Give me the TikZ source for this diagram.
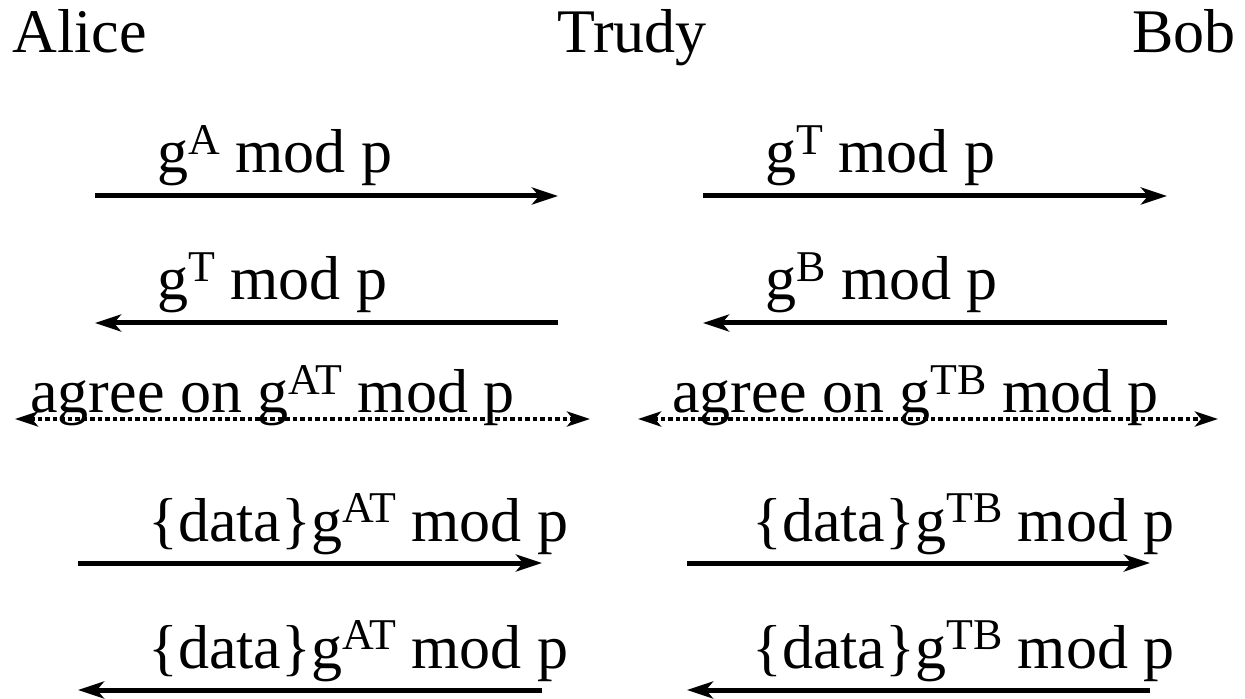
\documentclass[tikz,border=0pt]{standalone}
\usepackage{fontspec}
\setmainfont{Liberation Serif}
\usetikzlibrary{arrows.meta}

% small raised text for the exponents
\newcommand{\expo}[1]{\raisebox{0.3em}{\fontsize{25}{26}\selectfont #1}}

\begin{document}
\begin{tikzpicture}[x=0.02cm, y=-0.02cm,
    lbl/.style={anchor=base west, inner sep=0pt, font=\fontsize{35.3}{42}\selectfont},
    msg/.style={-{Stealth[length=0.52cm, width=0.34cm, inset=0.14cm]}, line width=0.1cm},
    agree/.style={{Stealth[length=0.46cm, width=0.3cm, inset=0.12cm]}-{Stealth[length=0.46cm, width=0.3cm, inset=0.12cm]},
                  line width=0.09cm, dash pattern=on 0.09cm off 0.06cm}
]
    \useasboundingbox (0,0) rectangle (1245,699);

    \node[lbl] (alice) at (12,53)  {Alice};
    \node[lbl] (trudy) at (557,53) {Trudy};
    \node[lbl, anchor=base east] (bob) at (1236,53) {Bob};

    % end points of the messages, left half (Alice - Trudy) and right half (Trudy - Bob)
    \coordinate (a1) at (95,196);   \coordinate (t1) at (558,196);
    \coordinate (u1) at (703,196);  \coordinate (b1) at (1167,196);
    \coordinate (a2) at (95,323);   \coordinate (t2) at (558,323);
    \coordinate (u2) at (703,323);  \coordinate (b2) at (1167,323);
    \coordinate (a3) at (15,419);   \coordinate (t3) at (590,419);
    \coordinate (u3) at (638,419);  \coordinate (b3) at (1218,419);
    \coordinate (a4) at (78,563);   \coordinate (t4) at (542,563);
    \coordinate (u4) at (687,563);  \coordinate (b4) at (1150,563);
    \coordinate (a5) at (78,690);   \coordinate (t5) at (542,690);
    \coordinate (u5) at (687,690);  \coordinate (b5) at (1150,690);

    % key exchange
    \node[lbl] (m1) at (157,173) {g\expo{A} mod p};
    \node[lbl] (n1) at (765,173) {g\expo{T} mod p};
    \draw[msg] (a1) -- (t1);
    \draw[msg] (u1) -- (b1);

    \node[lbl] (m2) at (157,300) {g\expo{T} mod p};
    \node[lbl] (n2) at (765,300) {g\expo{B} mod p};
    \draw[msg] (t2) -- (a2);
    \draw[msg] (b2) -- (u2);

    \draw[agree] (a3) -- (t3);
    \draw[agree] (u3) -- (b3);
    \node[lbl] (m3) at (30,413)  {agree on g\expo{AT} mod p};
    \node[lbl] (n3) at (672,413) {agree on g\expo{TB} mod p};

    % data traffic
    \node[lbl] (m4) at (148,541) {\{data\}g\expo{AT} mod p};
    \node[lbl] (n4) at (752,541) {\{data\}g\expo{TB} mod p};
    \draw[msg] (a4) -- (t4);
    \draw[msg] (u4) -- (b4);

    \node[lbl] (m5) at (148,668) {\{data\}g\expo{AT} mod p};
    \node[lbl] (n5) at (752,668) {\{data\}g\expo{TB} mod p};
    \draw[msg] (t5) -- (a5);
    \draw[msg] (b5) -- (u5);
\end{tikzpicture}
\end{document}
